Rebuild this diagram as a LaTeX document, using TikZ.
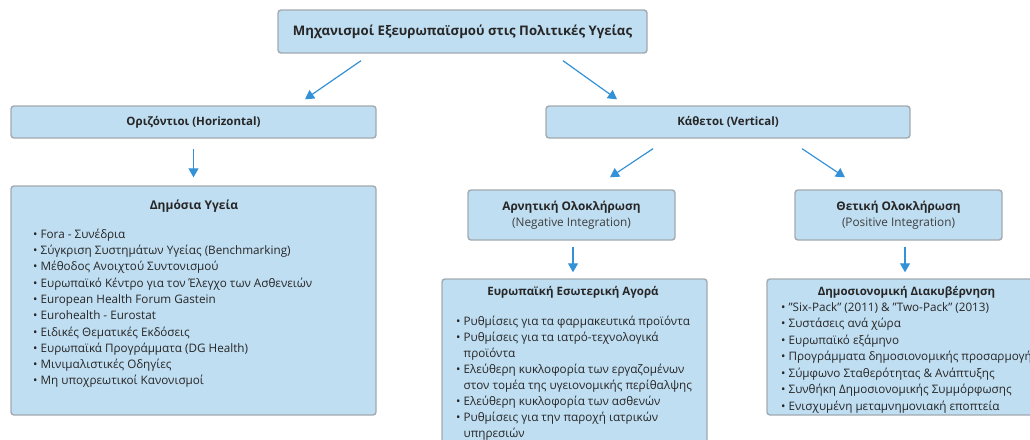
\documentclass[tikz,border=0pt]{standalone}
\usepackage{fontspec}
\setmainfont{Open Sans}
\usetikzlibrary{arrows.meta,positioning}
\definecolor{boxfill}{HTML}{C0DEF2}
\definecolor{boxline}{HTML}{A2AAB0}
\definecolor{arrowblue}{HTML}{3391D7}
\definecolor{inktext}{HTML}{262626}
\definecolor{subtext}{HTML}{3E3E3E}
\tikzset{
    mbox/.style={
        draw=boxline,
        line width=1.4pt,
        fill=boxfill,
        rounded corners=3pt,
        inner sep=0pt,
        text=inktext
    },
    headbox/.style={
        mbox,
        font=\bfseries\fontsize{11.5}{14}\selectfont
    },
    pairbox/.style={
        mbox,
        align=center,
        font=\fontsize{11.8}{16}\selectfont
    },
    boxtitle/.style={
        anchor=base,
        inner sep=0pt,
        text=inktext,
        font=\bfseries\fontsize{11.7}{14}\selectfont
    },
    listtext/.style={
        anchor=north west,
        align=left,
        inner sep=0pt,
        text=inktext,
        font=\fontsize{11.7}{16.3}\selectfont
    },
    link/.style={
        draw=arrowblue,
        line width=1.2pt,
        -{Triangle[length=9pt,width=10pt]}
    }
}
\newcommand{\firstline}{\rule{0pt}{11pt}}
\newcommand{\bul}{\textbullet\ }
\newcommand{\cont}{\phantom{\textbullet\ }}
\newcommand{\dq}{\symbol{34}}

\begin{document}
\begin{tikzpicture}[x=1pt,y=-1pt]
                \useasboundingbox (0,0) rectangle (1030,439);
                \clip (0,0) rectangle (1030,439);

                % boxes
                \node[headbox, minimum width=369pt, minimum height=43pt, font=\bfseries\fontsize{13.2}{15}\selectfont] (root) at (462.5,31.5)
                    {Μηχανισμοί Εξευρωπαϊσμού στις Πολιτικές Υγείας};
                \node[headbox, minimum width=365pt, minimum height=32pt] (horiz) at (193.5,122)
                    {Οριζόντιοι (Horizontal)};
                \node[headbox, minimum width=364pt, minimum height=32pt] (vert) at (728,122)
                    {Κάθετοι (Vertical)};
                \node[mbox, minimum width=365pt, minimum height=229pt] (public) at (193.5,300.5) {};
                \node[pairbox, minimum width=207pt, minimum height=50pt] (neg) at (571.5,215)
                    {\textbf{Αρνητική Ολοκλήρωση}\\\textcolor{subtext}{(Negative Integration)}};
                \node[pairbox, minimum width=207pt, minimum height=50pt] (pos) at (898.5,215)
                    {\textbf{Θετική Ολοκλήρωση}\\\textcolor{subtext}{(Positive Integration)}};
                \node[mbox, minimum width=265pt, minimum height=176pt] (market) at (574.5,367) {};
                \node[mbox, minimum width=276pt, minimum height=136pt] (fiscal) at (905,347) {};

                % box contents
                \node[boxtitle, font=\bfseries\fontsize{12}{14}\selectfont] (publictitle) at (194,209) {Δημόσια Υγεία};
                \node[listtext] (publiclist) at (33,227) {\firstline\bul Fora - Συνέδρια\\
                    \bul Σύγκριση Συστημάτων Υγείας (Benchmarking)\\
                    \bul Μέθοδος Ανοιχτού Συντονισμού\\
                    \bul Ευρωπαϊκό Κέντρο για τον Έλεγχο των Ασθενειών\\
                    \bul European Health Forum Gastein\\
                    \bul Eurohealth - Eurostat\\
                    \bul Ειδικές Θεματικές Εκδόσεις\\
                    \bul Ευρωπαϊκά Προγράμματα (DG Health)\\
                    \bul Μινιμαλιστικές Οδηγίες\\
                    \bul Μη υποχρεωτικοί Κανονισμοί};
                \node[boxtitle, font=\bfseries\fontsize{11.5}{14}\selectfont] (markettitle) at (573,295) {Ευρωπαϊκή Εσωτερική Αγορά};
                \node[listtext, font=\fontsize{11.7}{16}\selectfont] (marketlist) at (456,314) {\firstline\bul Ρυθμίσεις για τα φαρμακευτικά προϊόντα\\
                    \bul Ρυθμίσεις για τα ιατρό-τεχνολογικά\\
                    \cont προϊόντα\\
                    \bul Ελεύθερη κυκλοφορία των εργαζομένων\\
                    \cont στον τομέα της υγειονομικής περίθαλψης\\
                    \bul Ελεύθερη κυκλοφορία των ασθενών\\
                    \bul Ρυθμίσεις για την παροχή ιατρικών\\
                    \cont υπηρεσιών};
                \node[boxtitle, font=\bfseries\fontsize{11.5}{14}\selectfont] (fiscaltitle) at (906.5,295) {Δημοσιονομική Διακυβέρνηση};
                \node[listtext, font=\fontsize{11.7}{16.5}\selectfont] (fiscallist) at (781,300) {\firstline\bul \dq Six-Pack\dq\ (2011) \& \dq Two-Pack\dq\ (2013)\\
                    \bul Συστάσεις ανά χώρα\\
                    \bul Ευρωπαϊκό εξάμηνο\\
                    \bul Προγράμματα δημοσιονομικής προσαρμογής\\
                    \bul Σύμφωνο Σταθερότητας \& Ανάπτυξης\\
                    \bul Συνθήκη Δημοσιονομικής Συμμόρφωσης\\
                    \bul Ενισχυμένη μεταμνημονιακή εποπτεία};

                % connectors
                \draw[link] ([xshift=-101.5pt,yshift=-7pt]root.south) -- ([xshift=111.5pt,yshift=6pt]horiz.north);
                \draw[link] ([xshift=100.5pt,yshift=-7pt]root.south) -- ([xshift=-111pt,yshift=6pt]vert.north);
                \draw[link] ([yshift=-10pt]horiz.south) -- ([yshift=8pt]public.north);
                \draw[link] ([xshift=-75pt,yshift=-10pt]vert.south) -- ([xshift=38.5pt,yshift=12pt]neg.north);
                \draw[link] ([xshift=74pt,yshift=-10pt]vert.south) -- ([xshift=-53.5pt,yshift=12pt]pos.north);
                \draw[link] ([xshift=1.5pt,yshift=-6pt]neg.south) -- ([xshift=-1.5pt,yshift=6pt]market.north);
                \draw[link] ([xshift=6.5pt,yshift=-6pt]pos.south) -- ([yshift=6pt]fiscal.north);
            \end{tikzpicture}
\end{document}
